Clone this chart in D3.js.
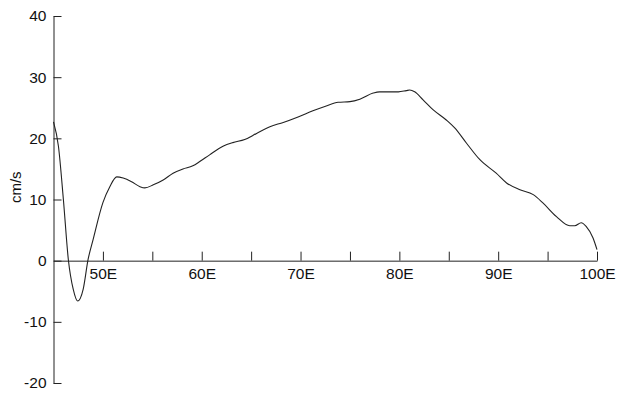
<!DOCTYPE html>
<html>
<head>
    <meta charset="utf-8">
    <title>cm/s along longitude</title>
    <style>
        body { margin: 0; background: #fff; }
        svg text { font-family: "Liberation Sans", Arial, Helvetica, sans-serif; fill: #111; }
    </style>
</head>
<body>
    <svg width="626" height="395"></svg>

    <script src="https://cdn.jsdelivr.net/npm/d3@7"></script>
    <script>

    // longitude (degrees E)
    var lon = [45.0, 45.5, 46.0, 46.5, 47.0, 47.45, 48.0, 48.5, 49.0, 50.0,
        50.7, 51.4, 52.05, 52.9, 53.75, 54.25, 55.1, 56.1, 57.1, 58.1,
        59.1, 59.8, 60.8, 62.15, 63.15, 64.35, 65.55, 66.9, 68.25, 69.75,
        71.25, 72.6, 73.8, 75.0, 76.0, 77.35, 78.0, 79.0, 79.9, 80.7,
        81.05, 81.55, 82.4, 83.4, 84.75, 85.6, 86.8, 88.15, 89.8, 90.85,
        92.2, 93.55, 94.55, 95.9, 97.25, 97.75, 98.4, 98.9, 99.6, 100.0]

    // speed in cm/s
    var speed = [22.7, 18.7, 10.0, 0.2, -4.7, -6.6, -4.7, 0.2, 3.4, 9.5,
        12.1, 13.7, 13.5, 12.9, 12.1, 11.9, 12.4, 13.2, 14.3, 15.0,
        15.5, 16.2, 17.3, 18.7, 19.3, 19.8, 20.8, 21.9, 22.6, 23.5,
        24.5, 25.3, 25.9, 26.0, 26.4, 27.4, 27.6, 27.6, 27.6, 27.8,
        27.9, 27.6, 26.3, 24.7, 23.0, 21.7, 19.2, 16.5, 14.3, 12.7,
        11.6, 10.8, 9.4, 7.2, 5.7, 5.7, 6.2, 5.6, 3.7, 1.8]

    var xTicks = [50, 55, 60, 65, 70, 75, 80, 85, 90, 95, 100]
    var yTicks = [-20, -10, 0, 10, 20, 30, 40]

    var svg = d3.select('svg')

    var x = d3.scaleLinear().domain([45, 100]).range([53.5, 597])
    var y = d3.scaleLinear().domain([-20, 40]).range([383, 16])

    var ink = '#222'

    // y axis on the left, ticks pointing in, plain hyphen for minus
    var yAxis = svg.append('g')
        .attr('transform', 'translate(' + x(45) + ',0)')
        .call(d3.axisLeft(y)
            .tickValues(yTicks)
            .tickSizeInner(-8)
            .tickSizeOuter(0)
            .tickPadding(7)
            .tickFormat(function(d){ return String(d) }))
    yAxis.selectAll('text').style('font-size', '15.5px')

    // x axis along zero, ticks pointing up, labels only every 10
    var xAxis = svg.append('g')
        .attr('transform', 'translate(0,' + y(0) + ')')
        .call(d3.axisBottom(x)
            .tickValues(xTicks)
            .tickSizeInner(-9)
            .tickSizeOuter(0)
            .tickPadding(7)
            .tickFormat(function(d){
                return d % 10 === 0 ? d + 'E' : ''
            }))
    xAxis.selectAll('text').style('font-size', '15.5px')

    svg.selectAll('.domain, .tick line')
        .attr('stroke', ink)
        .attr('stroke-width', 1)
    svg.selectAll('.tick text').attr('fill', '#111')

    // unit label
    svg.append('text')
        .attr('transform', 'translate(21,' + y(12) + ') rotate(-90)')
        .attr('text-anchor', 'middle')
        .style('font-size', '15px')
        .text('cm/s')

    var pts = lon.map(function(d, i){
        return [d, speed[i]]
    })

    var line = d3.line()
        .x(function(d){ return x(d[0]) })
        .y(function(d){ return y(d[1]) })
        .curve(d3.curveMonotoneX)

    svg.append('path')
        .datum(pts)
        .attr('d', line)
        .attr('fill', 'none')
        .attr('stroke', ink)
        .attr('stroke-width', 1.1)

    </script>
</body>
</html>
